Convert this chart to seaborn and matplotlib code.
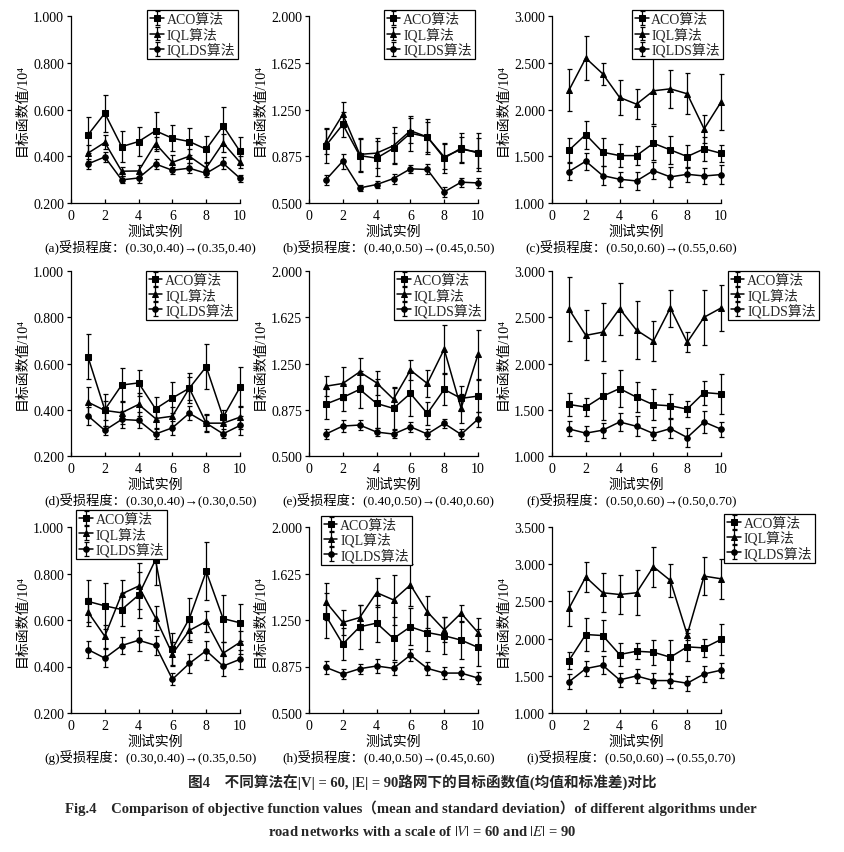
import matplotlib
matplotlib.use("Agg")
import matplotlib.pyplot as plt
import pandas as pd
import seaborn as sns

sns.set_theme(style="ticks")
plt.rcParams['font.family'] = ['Liberation Serif', 'Noto Sans CJK SC']
plt.rcParams['mathtext.fontset'] = 'stix'
plt.rcParams['axes.unicode_minus'] = False

instances = [1, 2, 3, 4, 5, 6, 7, 8, 9, 10]
algos = ["ACO算法", "IQL算法", "IQLDS算法"]

# (a)
aco_a = [0.491, 0.584, 0.441, 0.463, 0.509, 0.477, 0.463, 0.430, 0.530, 0.421]
aco_a_sd = [0.075, 0.08, 0.065, 0.06, 0.08, 0.055, 0.058, 0.055, 0.08, 0.06]
iql_a = [0.413, 0.459, 0.336, 0.337, 0.454, 0.374, 0.400, 0.350, 0.457, 0.374]
iql_a_sd = [0.035, 0.03, 0.02, 0.025, 0.03, 0.03, 0.03, 0.02, 0.04, 0.025]
iqlds_a = [0.367, 0.397, 0.299, 0.307, 0.367, 0.340, 0.349, 0.327, 0.370, 0.306]
iqlds_a_sd = [0.02, 0.02, 0.015, 0.02, 0.02, 0.015, 0.02, 0.015, 0.025, 0.015]
# (b)
aco_b = [0.96, 1.13, 0.88, 0.86, 0.94, 1.06, 1.03, 0.86, 0.94, 0.90]
aco_b_sd = [0.14, 0.10, 0.13, 0.14, 0.12, 0.14, 0.14, 0.12, 0.12, 0.12]
iql_b = [0.99, 1.21, 0.89, 0.90, 0.96, 1.08, 1.03, 0.87, 0.93, 0.91]
iql_b_sd = [0.10, 0.10, 0.13, 0.12, 0.15, 0.10, 0.12, 0.10, 0.10, 0.15]
iqlds_b = [0.686, 0.836, 0.621, 0.648, 0.696, 0.774, 0.769, 0.589, 0.667, 0.661]
iqlds_b_sd = [0.04, 0.06, 0.025, 0.03, 0.04, 0.03, 0.04, 0.04, 0.035, 0.04]
# (c)
aco_c = [1.564, 1.732, 1.543, 1.507, 1.507, 1.639, 1.568, 1.497, 1.579, 1.532]
aco_c_sd = [0.13, 0.15, 0.15, 0.12, 0.10, 0.18, 0.15, 0.12, 0.13, 0.09]
iql_c = [2.204, 2.550, 2.382, 2.129, 2.057, 2.200, 2.221, 2.168, 1.793, 2.079]
iql_c_sd = [0.225, 0.235, 0.12, 0.19, 0.16, 0.36, 0.20, 0.22, 0.15, 0.30]
iqlds_c = [1.336, 1.447, 1.293, 1.254, 1.236, 1.347, 1.279, 1.307, 1.289, 1.304]
iqlds_c_sd = [0.09, 0.09, 0.10, 0.08, 0.10, 0.09, 0.11, 0.08, 0.09, 0.10]
# (d)
aco_d = [0.630, 0.400, 0.507, 0.516, 0.404, 0.451, 0.493, 0.586, 0.368, 0.497]
aco_d_sd = [0.097, 0.07, 0.075, 0.057, 0.05, 0.067, 0.065, 0.097, 0.03, 0.086]
iql_d = [0.433, 0.397, 0.387, 0.423, 0.362, 0.372, 0.493, 0.342, 0.342, 0.368]
iql_d_sd = [0.065, 0.04, 0.05, 0.05, 0.04, 0.04, 0.05, 0.04, 0.04, 0.05]
iqlds_d = [0.374, 0.311, 0.358, 0.354, 0.295, 0.322, 0.385, 0.342, 0.296, 0.332]
iqlds_d_sd = [0.04, 0.02, 0.035, 0.035, 0.02, 0.03, 0.03, 0.035, 0.02, 0.04]
# (e)
aco_e = [0.921, 0.975, 1.040, 0.926, 0.886, 1.007, 0.845, 1.040, 0.967, 0.986]
aco_e_sd = [0.12, 0.11, 0.15, 0.20, 0.17, 0.18, 0.09, 0.13, 0.10, 0.13]
iql_e = [1.066, 1.088, 1.182, 1.093, 0.961, 1.196, 1.088, 1.366, 0.886, 1.323]
iql_e_sd = [0.08, 0.13, 0.11, 0.10, 0.09, 0.08, 0.11, 0.20, 0.12, 0.20]
iqlds_e = [0.678, 0.743, 0.751, 0.694, 0.678, 0.737, 0.678, 0.764, 0.675, 0.799]
iqlds_e_sd = [0.04, 0.05, 0.04, 0.03, 0.03, 0.04, 0.04, 0.04, 0.04, 0.06]
# (f)
aco_f = [1.557, 1.529, 1.646, 1.729, 1.636, 1.554, 1.543, 1.507, 1.686, 1.671]
aco_f_sd = [0.125, 0.10, 0.255, 0.20, 0.16, 0.17, 0.13, 0.09, 0.13, 0.22]
iql_f = [2.589, 2.304, 2.339, 2.593, 2.361, 2.243, 2.600, 2.229, 2.500, 2.600]
iql_f_sd = [0.35, 0.27, 0.31, 0.28, 0.31, 0.22, 0.20, 0.11, 0.30, 0.25]
iqlds_f = [1.293, 1.247, 1.279, 1.368, 1.321, 1.243, 1.296, 1.200, 1.368, 1.290]
iqlds_f_sd = [0.08, 0.08, 0.08, 0.10, 0.11, 0.07, 0.10, 0.10, 0.12, 0.08]
# (g)
aco_g = [0.680, 0.661, 0.645, 0.707, 0.859, 0.475, 0.606, 0.809, 0.606, 0.588]
aco_g_sd = [0.09, 0.10, 0.07, 0.10, 0.11, 0.07, 0.09, 0.125, 0.10, 0.08]
iql_g = [0.635, 0.530, 0.712, 0.746, 0.609, 0.454, 0.555, 0.594, 0.457, 0.504]
iql_g_sd = [0.06, 0.05, 0.06, 0.10, 0.05, 0.05, 0.05, 0.045, 0.05, 0.05]
iqlds_g = [0.473, 0.436, 0.490, 0.513, 0.491, 0.345, 0.413, 0.468, 0.402, 0.431]
iqlds_g_sd = [0.035, 0.04, 0.035, 0.045, 0.04, 0.025, 0.04, 0.04, 0.045, 0.04]
# (h)
aco_h = [1.284, 1.056, 1.195, 1.225, 1.101, 1.195, 1.149, 1.123, 1.088, 1.029]
aco_h_sd = [0.18, 0.13, 0.18, 0.15, 0.17, 0.15, 0.15, 0.15, 0.15, 0.15]
iql_h = [1.396, 1.230, 1.270, 1.471, 1.412, 1.533, 1.316, 1.171, 1.305, 1.149]
iql_h_sd = [0.15, 0.10, 0.10, 0.12, 0.20, 0.17, 0.13, 0.10, 0.07, 0.12]
iqlds_h = [0.868, 0.814, 0.857, 0.879, 0.860, 0.967, 0.860, 0.822, 0.822, 0.782]
iqlds_h_sd = [0.05, 0.04, 0.04, 0.06, 0.05, 0.05, 0.05, 0.05, 0.05, 0.05]
# (i)
aco_i = [1.705, 2.055, 2.041, 1.786, 1.830, 1.817, 1.750, 1.889, 1.875, 1.988]
aco_i_sd = [0.12, 0.22, 0.21, 0.16, 0.11, 0.17, 0.23, 0.19, 0.12, 0.21]
iql_i = [2.405, 2.827, 2.616, 2.593, 2.616, 2.966, 2.782, 2.055, 2.840, 2.804]
iql_i_sd = [0.24, 0.20, 0.26, 0.26, 0.30, 0.27, 0.22, 0.07, 0.26, 0.27]
iqlds_i = [1.418, 1.597, 1.642, 1.445, 1.498, 1.436, 1.436, 1.400, 1.525, 1.575]
iqlds_i_sd = [0.10, 0.10, 0.12, 0.09, 0.10, 0.10, 0.10, 0.10, 0.11, 0.10]

yticks_small = [0.2, 0.4, 0.6, 0.8, 1.0]
yticks_mid = [0.5, 0.875, 1.25, 1.625, 2.0]
yticks_big = [1.0, 1.5, 2.0, 2.5, 3.0]
yticks_i = [1.0, 1.5, 2.0, 2.5, 3.0, 3.5]

captions = [
    "(a)受损程度：(0.30,0.40)→(0.35,0.40)",
    "(b)受损程度：(0.40,0.50)→(0.45,0.50)",
    "(c)受损程度：(0.50,0.60)→(0.55,0.60)",
    "(d)受损程度：(0.30,0.40)→(0.30,0.50)",
    "(e)受损程度：(0.40,0.50)→(0.40,0.60)",
    "(f)受损程度：(0.50,0.60)→(0.50,0.70)",
    "(g)受损程度：(0.30,0.40)→(0.35,0.50)",
    "(h)受损程度：(0.40,0.50)→(0.45,0.60)",
    "(i)受损程度：(0.50,0.60)→(0.55,0.70)",
]

panels = [
    (aco_a, aco_a_sd, iql_a, iql_a_sd, iqlds_a, iqlds_a_sd, yticks_small),
    (aco_b, aco_b_sd, iql_b, iql_b_sd, iqlds_b, iqlds_b_sd, yticks_mid),
    (aco_c, aco_c_sd, iql_c, iql_c_sd, iqlds_c, iqlds_c_sd, yticks_big),
    (aco_d, aco_d_sd, iql_d, iql_d_sd, iqlds_d, iqlds_d_sd, yticks_small),
    (aco_e, aco_e_sd, iql_e, iql_e_sd, iqlds_e, iqlds_e_sd, yticks_mid),
    (aco_f, aco_f_sd, iql_f, iql_f_sd, iqlds_f, iqlds_f_sd, yticks_big),
    (aco_g, aco_g_sd, iql_g, iql_g_sd, iqlds_g, iqlds_g_sd, yticks_small),
    (aco_h, aco_h_sd, iql_h, iql_h_sd, iqlds_h, iqlds_h_sd, yticks_mid),
    (aco_i, aco_i_sd, iql_i, iql_i_sd, iqlds_i, iqlds_i_sd, yticks_i),
]

# legend placement: (loc, anchor in axes fraction)
legend_pos = [
    ("upper right", (0.99, 1.03)), ("upper right", (0.98, 1.03)), ("upper right", (1.01, 1.03)),
    ("upper right", (0.98, 1.0)), ("upper right", (1.04, 1.0)), ("upper left", (1.04, 1.0)),
    ("upper left", (0.03, 1.09)), ("upper left", (0.07, 1.06)), ("upper left", (1.02, 1.07)),
]

W, H = 844, 853
col_x = [71, 309, 552]
row_y = [(17, 204), (272, 457), (528, 714)]
ax_w = 169

fig = plt.figure(figsize=(W / 100, H / 100), dpi=100)
markers = {"ACO算法": "s", "IQL算法": "^", "IQLDS算法": "o"}

for k, (m1, s1, m2, s2, m3, s3, yt) in enumerate(panels):
    r, c = divmod(k, 3)
    top, bot = row_y[r]
    ax = fig.add_axes([col_x[c] / W, 1 - bot / H, ax_w / W, (bot - top) / H])
    df = pd.DataFrame({
        "实例": instances * 3,
        "值": m1 + m2 + m3,
        "算法": [a for a in algos for _ in instances],
    })
    sns.lineplot(data=df, x="实例", y="值", style="算法", style_order=algos,
                 markers=markers, dashes=False, color="black", linewidth=1.1,
                 markersize=4, markeredgecolor="black", ax=ax, legend=False)
    lines = list(ax.get_lines())[:3]
    for ln in lines:
        ln.set_clip_on(False)
    bars = []
    for m, s in [(m1, s1), (m2, s2), (m3, s3)]:
        eb = ax.errorbar(instances, m, yerr=s, fmt="none", ecolor="black",
                         elinewidth=0.9, capsize=1.8, capthick=0.9, clip_on=False)
        bars.append(eb)
    ax.set_xlim(0, 10)
    ax.set_ylim(yt[0], yt[-1])
    ax.set_xticks([0, 2, 4, 6, 8, 10])
    ax.set_yticks(yt)
    ax.set_yticklabels([f"{v:.3f}" for v in yt])
    sns.despine(ax=ax)
    for sp in ["left", "bottom"]:
        ax.spines[sp].set_linewidth(0.9)
        ax.spines[sp].set_color("black")
    ax.tick_params(axis="x", direction="in", length=3, width=0.9, labelsize=10, pad=4, colors="black")
    ax.tick_params(axis="y", direction="out", length=3, width=0.9, labelsize=10, pad=2, colors="black")
    ax.set_xlabel("测试实例", fontsize=10, labelpad=2, color="black")
    ax.set_ylabel("目标函数值/10⁴", fontsize=10, labelpad=3, color="black")
    loc, anchor = legend_pos[k]
    handles = [(ln, eb) for ln, eb in zip(lines, bars)]
    leg = ax.legend(handles, algos, loc=loc, bbox_to_anchor=anchor, frameon=True,
                    fancybox=False, edgecolor="black", framealpha=1, fontsize=10,
                    handlelength=1.0, handletextpad=0.2, borderpad=0.2,
                    labelspacing=0.05, borderaxespad=0)
    leg.get_frame().set_linewidth(0.9)
    ax.text(0.47, -0.235, captions[k], transform=ax.transAxes, ha="center",
            va="center", fontsize=9.5, color="black")

fig.text(0.5, 1 - 783 / H, "图4　不同算法在|V| = 60, |E| = 90路网下的目标函数值(均值和标准差)对比",
         ha="center", va="center", fontsize=10.5, fontweight="bold")
fig.text(0.487, 1 - 808 / H,
         "Fig.4　Comparison of objective function values（mean and standard deviation）of different algorithms under",
         ha="center", va="center", fontsize=10.5, fontweight="bold")
fig.text(0.5, 1 - 832 / H, "road networks with a scale of $|V|$ = 60 and $|E|$ = 90",
         ha="center", va="center", fontsize=10.5, fontweight="bold")

fig.savefig("out.png", dpi=100)
